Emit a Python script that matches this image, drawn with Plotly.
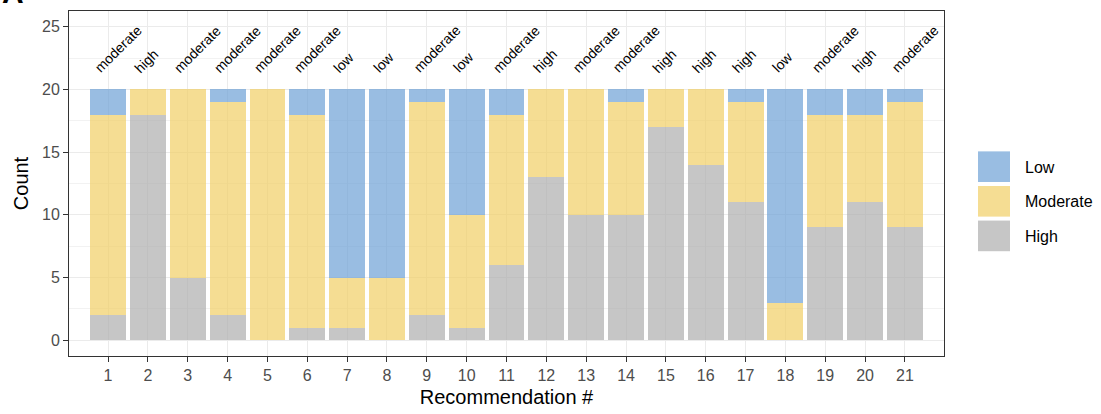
import plotly.graph_objects as go

recs = list(range(1, 22))
high = [2, 18, 5, 2, 0, 1, 1, 0, 2, 1, 6, 13, 10, 10, 17, 14, 11, 0, 9, 11, 9]
moderate = [16, 2, 15, 17, 20, 17, 4, 5, 17, 9, 12, 7, 10, 9, 3, 6, 8, 3, 9, 7, 10]
low = [2, 0, 0, 1, 0, 2, 15, 15, 1, 10, 2, 0, 0, 1, 0, 0, 1, 17, 2, 2, 1]
labels = ["moderate", "high", "moderate", "moderate", "moderate", "moderate", "low",
          "low", "moderate", "low", "moderate", "high", "moderate", "moderate", "high",
          "high", "high", "low", "moderate", "high", "moderate"]
legend_names = ["Low", "Moderate", "High"]
label_y = 20.85

C_LOW = "rgba(109,161,214,0.7)"
C_MOD = "rgba(241,207,101,0.7)"
C_HIGH = "rgba(174,174,174,0.7)"
colors = {"Low": C_LOW, "Moderate": C_MOD, "High": C_HIGH}

FONT = "Liberation Sans, Arial, sans-serif"

fig = go.Figure()
for name, vals in [("High", high), ("Moderate", moderate), ("Low", low)]:
    fig.add_trace(go.Bar(x=recs, y=vals, name=name, width=0.9,
                         marker=dict(color=colors[name], line=dict(width=0)),
                         showlegend=False))

annotations = []
for r, lab in zip(recs, labels):
    annotations.append(dict(x=r - 0.48, y=label_y, xref="x", yref="y", text=lab,
                            textangle=-45, showarrow=False, xanchor="left",
                            yanchor="bottom", font=dict(size=14, color="black", family=FONT)))

# manual legend (large square keys like ggplot)
W, H = 875.0, 349.0
def px(x):
    return (x - 69) / W
def py(y):
    return (359 - y) / H

shapes = []
for i, name in enumerate(legend_names):
    top = 152 + 35 * i
    shapes.append(dict(type="rect", xref="paper", yref="paper",
                       x0=px(978), x1=px(1010), y0=py(top + 31), y1=py(top),
                       fillcolor=colors[name], line=dict(width=0), layer="above"))
    annotations.append(dict(x=px(1023), y=py(top + 16), xref="paper", yref="paper",
                            text=name, showarrow=False, xanchor="left", yanchor="middle",
                            font=dict(size=16, color="black", family=FONT)))

annotations.append(dict(x=px(0), y=py(10), xref="paper", yref="paper", text="<b>A</b>",
                        showarrow=False, xanchor="left", yanchor="bottom",
                        font=dict(size=30, color="black", family=FONT)))

fig.update_layout(
    barmode="stack",
    width=1101, height=414,
    margin=dict(l=69, r=157, t=10, b=55),
    paper_bgcolor="white", plot_bgcolor="white",
    font=dict(family=FONT),
    shapes=shapes,
    annotations=annotations,
    showlegend=False,
)
fig.update_xaxes(range=[0.02, 21.98], tickmode="array", tickvals=recs,
                 ticktext=[str(r) for r in recs],
                 tickfont=dict(size=16, color="#4D4D4D"),
                 ticks="outside", ticklen=5, tickcolor="#333333", tickwidth=1,
                 showgrid=True, gridcolor="#EBEBEB", gridwidth=1.3,
                 showline=True, linecolor="#333333", linewidth=1, mirror=True,
                 zeroline=False,
                 title=dict(text="Recommendation #", font=dict(size=20, color="black"), standoff=6))
fig.update_yaxes(range=[-1.25, 26.25], tickmode="array", tickvals=[0, 5, 10, 15, 20, 25],
                 tickfont=dict(size=16, color="#4D4D4D"),
                 ticks="outside", ticklen=5, tickcolor="#333333", tickwidth=1,
                 showgrid=True, gridcolor="#EBEBEB", gridwidth=1.3,
                 minor=dict(dtick=2.5, tick0=0, showgrid=True, gridcolor="#F2F2F2", gridwidth=0.8),
                 showline=True, linecolor="#333333", linewidth=1, mirror=True,
                 zeroline=False,
                 title=dict(text="Count", font=dict(size=20, color="black"), standoff=8))

fig.write_html("out.html", config={"displayModeBar": False},
               post_script="document.body.style.margin='0';")
